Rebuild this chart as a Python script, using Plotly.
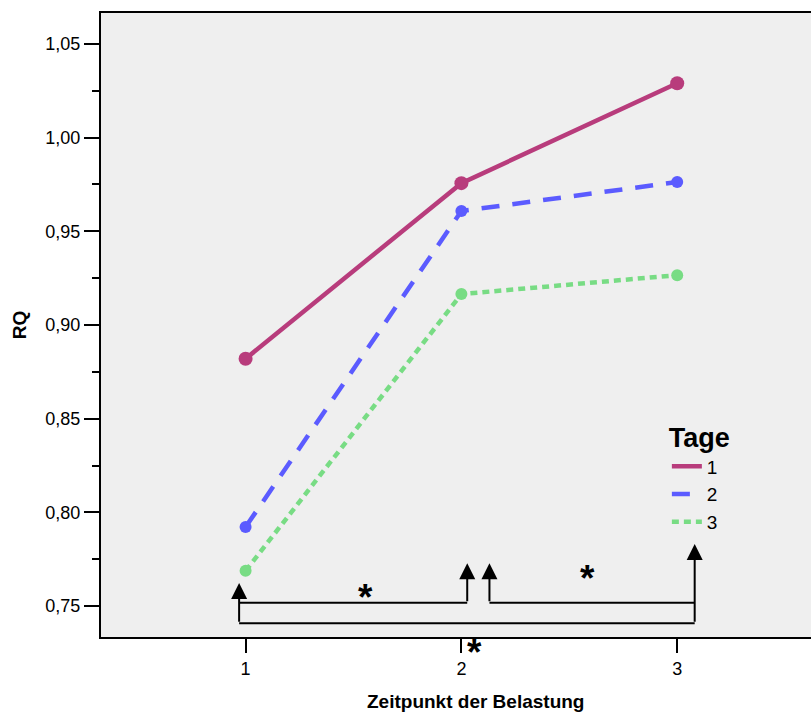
import plotly.graph_objects as go

# Measurement time points and mean RQ per day group
zeitpunkte = [1, 2, 3]
tage_labels = ["1", "2", "3"]
rq_tag1 = [0.882, 0.9757, 1.029]
rq_tag2 = [0.7922, 0.9608, 0.9763]
rq_tag3 = [0.7688, 0.9165, 0.9266]

farben = ["#B83C7C", "#5B5BFF", "#78DC84"]
striche = ["solid", "18px,13px", "7px,5px"]

# Significance brackets (data coordinates)
klammer_x = [0.970, 2.027, 2.130, 3.081]
klammer_basis = 0.7409
klammer_innen = 0.7518
pfeil_spitzen = [0.7623, 0.7729, 0.7729, 0.7831]
stern_x = [1.556, 2.586, 2.060]
stern_y = [0.7575, 0.7676, 0.7281]

y_bereich = [0.7335, 1.0665]

fig = go.Figure()

for label, werte, farbe, strich in zip(tage_labels, [rq_tag1, rq_tag2, rq_tag3], farben, striche):
    fig.add_trace(go.Scatter(
        x=zeitpunkte, y=werte, name=label, mode="lines", legendgroup=label,
        line=dict(color=farbe, width=4.5, dash=strich),
    ))
    fig.add_trace(go.Scatter(
        x=zeitpunkte, y=werte, name=label, mode="markers", legendgroup=label,
        showlegend=False,
        marker=dict(color=farbe, size=14 if label == "1" else 12),
    ))

lw = dict(color="black", width=2)
# horizontal bracket lines
fig.add_shape(type="line", x0=klammer_x[0], x1=klammer_x[1], y0=klammer_innen, y1=klammer_innen, line=lw)
fig.add_shape(type="line", x0=klammer_x[2], x1=klammer_x[3], y0=klammer_innen, y1=klammer_innen, line=lw)
fig.add_shape(type="line", x0=klammer_x[0], x1=klammer_x[3], y0=klammer_basis, y1=klammer_basis, line=lw)

# vertical legs ending in arrowheads
starts = [klammer_basis, klammer_innen, klammer_innen, klammer_basis]
for bx, by, ty in zip(klammer_x, starts, pfeil_spitzen):
    fig.add_annotation(
        x=bx, y=ty, ax=bx, ay=by, xref="x", yref="y", axref="x", ayref="y",
        text="", showarrow=True, arrowhead=2, arrowsize=1.6, arrowwidth=2,
        arrowcolor="black", standoff=0,
    )

# significance stars (one sits below the axis, so place them in domain units)
for sx, sy in zip(stern_x, stern_y):
    fig.add_annotation(
        x=sx, y=(sy - y_bereich[0]) / (y_bereich[1] - y_bereich[0]),
        xref="x", yref="y domain", text="<b>*</b>", showarrow=False,
        font=dict(size=37, color="black", family="Liberation Sans, Arial"),
        yanchor="middle", yshift=-5,
    )

# x axis title, set slightly right of the axis centre
fig.add_annotation(
    x=0.528, y=-0.104, xref="paper", yref="paper", showarrow=False,
    text="<b>Zeitpunkt der Belastung</b>", font=dict(size=19),
    xanchor="center", yanchor="middle",
)

fig.update_layout(
    width=811, height=713,
    margin=dict(l=101, r=0, t=13, b=76),
    paper_bgcolor="white", plot_bgcolor="#EFEFEF",
    separators=",.",
    font=dict(family="Liberation Sans, Arial", color="black", size=18),
    showlegend=True,
    legend=dict(
        title=dict(text="<b>Tage</b>", side="top", font=dict(size=27)),
        x=0.797, y=0.36, xanchor="left", yanchor="top",
        bgcolor="rgba(0,0,0,0)", font=dict(size=19),
        tracegroupgap=0, itemwidth=30,
    ),
    xaxis=dict(
        range=[0.33, 3.62], tickvals=zeitpunkte, ticktext=tage_labels,
        showgrid=False, zeroline=False, showline=True, linecolor="black",
        linewidth=2, mirror=True, ticks="outside", ticklen=14, tickwidth=2,
        tickcolor="black", tickfont=dict(size=18),
    ),
    yaxis=dict(
        range=y_bereich, tickvals=[0.75, 0.80, 0.85, 0.90, 0.95, 1.00, 1.05],
        tickformat=".2f", showgrid=False, zeroline=False, showline=True,
        linecolor="black", linewidth=2, ticks="outside", ticklen=15,
        tickwidth=2, tickcolor="black", tickfont=dict(size=18),
        minor=dict(dtick=0.025, tick0=0.725, ticks="outside", ticklen=7, tickwidth=2, tickcolor="black", showgrid=False),
        title=dict(text="<b>RQ</b>", font=dict(size=19), standoff=14),
    ),
)

fig.write_html("out.html")
